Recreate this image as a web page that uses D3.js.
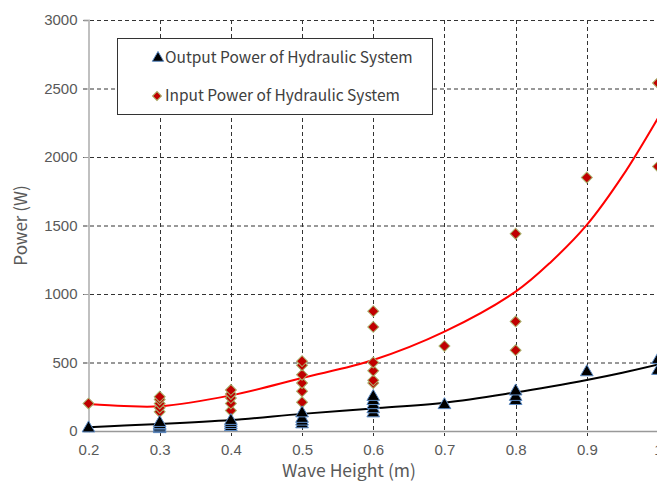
<!DOCTYPE html>
<html>
<head>
<meta charset="utf-8">
<script src="https://cdn.jsdelivr.net/npm/d3@7"></script>
<style>
  body { margin: 0; background: #fff; }
  svg { display: block; font-family: "Noto Sans CJK SC", "Noto Sans", sans-serif; }
</style>
</head>
<body>
<div id="chart"></div>
<script>
// wave heights with measured points
const outputX = [0.2, 0.3, 0.3, 0.3, 0.3, 0.3, 0.4, 0.4, 0.4, 0.4, 0.5, 0.5, 0.5, 0.5,
  0.6, 0.6, 0.6, 0.6, 0.6, 0.7, 0.8, 0.8, 0.8, 0.9, 1.0, 1.0];
const outputY = [20, 15, 25, 35, 45, 60, 30, 45, 60, 75, 50, 70, 90, 130,
  130, 160, 190, 220, 250, 190, 220, 250, 290, 430, 440, 520];

const inputX = [0.2, 0.3, 0.3, 0.3, 0.3, 0.3, 0.4, 0.4, 0.4, 0.4, 0.4, 0.5, 0.5, 0.5, 0.5, 0.5, 0.5,
  0.6, 0.6, 0.6, 0.6, 0.6, 0.6, 0.7, 0.8, 0.8, 0.8, 0.9, 1.0, 1.0];
const inputY = [200, 140, 170, 200, 230, 250, 150, 200, 240, 270, 300, 210, 290, 350, 410, 480, 510,
  350, 370, 440, 500, 760, 875, 620, 590, 800, 1440, 1850, 1930, 2540];

// trend lines
const trendX = [0.2, 0.25, 0.3, 0.4, 0.5, 0.6, 0.7, 0.8, 0.85, 0.9, 0.95, 1.0];
const inputTrend = [197, 182, 180, 260, 387, 518, 725, 1017, 1236, 1504, 1860, 2285];
const outputTrend = [27, 40, 51, 80, 125, 165, 207, 282, 325, 372, 425, 485];

const xTicks = [0.2, 0.3, 0.4, 0.5, 0.6, 0.7, 0.8, 0.9, 1.0];
const yTicks = [0, 500, 1000, 1500, 2000, 2500, 3000];
const legendLabels = ["Output Power of Hydraulic System", "Input Power of Hydraulic System"];

const width = 657, height = 485;
const svg = d3.select("#chart").append("svg")
  .attr("width", width).attr("height", height);

const x = d3.scaleLinear().domain([0.2, 1.0]).range([88.5, 658]);
const y = d3.scaleLinear().domain([0, 3000]).range([431, 20]);

// grid
svg.append("g").selectAll("line").data(yTicks.slice(1)).join("line")
  .attr("x1", 83).attr("x2", x(1.0))
  .attr("y1", d => y(d) + 0.5).attr("y2", d => y(d) + 0.5)
  .attr("stroke", "#333").attr("stroke-dasharray", "4,3").attr("stroke-width", 1);
svg.append("g").selectAll("line").data(xTicks.slice(1)).join("line")
  .attr("x1", d => Math.round(x(d)) + 0.5).attr("x2", d => Math.round(x(d)) + 0.5)
  .attr("y1", y(3000)).attr("y2", y(0) + 5)
  .attr("stroke", "#333").attr("stroke-dasharray", "4,3").attr("stroke-width", 1);

// axes
const xAxis = svg.append("g").attr("transform", `translate(0,${y(0)})`)
  .call(d3.axisBottom(x).tickValues(xTicks).tickFormat(d => d === 1 ? "1" : d3.format(".1f")(d)).tickSize(0).tickPadding(13));
xAxis.select(".domain").attr("stroke", "#999").attr("stroke-width", 1.5);
xAxis.selectAll("text").attr("fill", "#595959").style("font-size", "15px");

const yAxis = svg.append("g").attr("transform", `translate(${x(0.2)},0)`)
  .call(d3.axisLeft(y).tickValues(yTicks).tickFormat(d3.format("d")).tickSize(5).tickPadding(6));
yAxis.select(".domain").attr("stroke", "#c0c0c0").attr("stroke-width", 2);
yAxis.selectAll(".tick line").attr("stroke", "#999");
yAxis.selectAll("text").attr("fill", "#595959").style("font-size", "15px");

svg.append("text").attr("x", 349).attr("y", 477)
  .attr("text-anchor", "middle").attr("fill", "#595959").style("font-size", "17.5px")
  .text("Wave Height (m)");
svg.append("text").attr("transform", `translate(27,${y(1500)}) rotate(-90)`)
  .attr("text-anchor", "middle").attr("fill", "#595959").style("font-size", "17px")
  .text("Power (W)");

// trend lines
const line = d3.line().curve(d3.curveCatmullRom).x(d => x(d[0])).y(d => y(d[1]));
svg.append("path").datum(d3.zip(trendX, inputTrend))
  .attr("d", line).attr("fill", "none").attr("stroke", "#ff0000").attr("stroke-width", 2);
svg.append("path").datum(d3.zip(trendX, outputTrend))
  .attr("d", line).attr("fill", "none").attr("stroke", "#000").attr("stroke-width", 2);

// markers
const tri = d3.symbol().type(d3.symbolTriangle).size(70);
const dia = d3.symbol().type(d3.symbolSquare).size(60);

svg.append("g").selectAll("path").data(d3.zip(inputX, inputY)).join("path")
  .attr("transform", d => `translate(${x(d[0])},${y(d[1])}) rotate(45)`)
  .attr("d", dia).attr("fill", "#c00000").attr("stroke", "#a8b06a").attr("stroke-width", 1);
svg.append("g").selectAll("path").data(d3.zip(outputX, outputY)).join("path")
  .attr("transform", d => `translate(${x(d[0])},${y(d[1])})`)
  .attr("d", tri).attr("fill", "#000").attr("stroke", "#5b8ac4").attr("stroke-width", 1);

// legend
const lg = svg.append("g");
lg.append("rect").attr("x", 117.5).attr("y", 38.5).attr("width", 315).attr("height", 76)
  .attr("fill", "#fff").attr("stroke", "#333").attr("stroke-width", 1);
lg.append("path").attr("transform", "translate(158,58)").attr("d", d3.symbol().type(d3.symbolTriangle).size(55))
  .attr("fill", "#000").attr("stroke", "#5b8ac4");
lg.append("path").attr("transform", "translate(157,96) rotate(45)").attr("d", d3.symbol().type(d3.symbolSquare).size(40))
  .attr("fill", "#c00000").attr("stroke", "#a8b06a");
lg.selectAll("text").data(legendLabels).join("text")
  .attr("x", 165).attr("y", (d, i) => 63 + i * 38)
  .attr("fill", "#404040").style("font-size", "15.5px")
  .text(d => d);
</script>
</body>
</html>
